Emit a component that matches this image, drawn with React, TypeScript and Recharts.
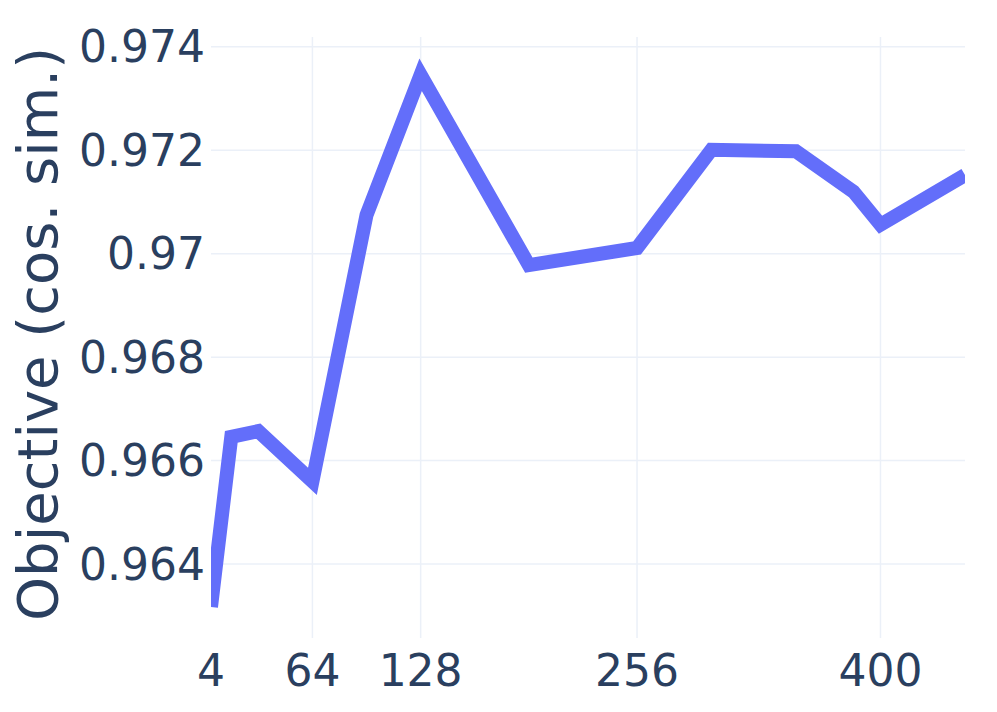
import { CartesianGrid, Line, LineChart, XAxis, YAxis } from "recharts";

// sweep values and their objective (cosine similarity)
const sizes = [4, 16, 32, 64, 96, 128, 192, 256, 300, 350, 384, 400, 450];
const objective = [
  0.96317, 0.96646, 0.96657, 0.9656, 0.97075, 0.97346, 0.96978, 0.97011,
  0.97201, 0.97198, 0.9712, 0.97056, 0.97152,
];
const xTicks = [4, 64, 128, 256, 400];
const yTicks = [0.964, 0.966, 0.968, 0.97, 0.972, 0.974];

const FONT = "DejaVu Sans";
const INK = "#2a3f5f";
const GRID = "#ebf0f8";

const data = sizes.map((s, i) => ({ size: s, value: objective[i] }));

export default function App() {
  return (
    <div style={{ position: "absolute", left: 0, top: 0, background: "#fff" }}>
      <LineChart
        width={997}
        height={712}
        data={data}
        margin={{ top: 37, right: 32, bottom: 0, left: 0 }}
      >
        {/* no gridline on the left edge, like the original */}
        <CartesianGrid
          stroke={GRID}
          strokeWidth={1.5}
          horizontalValues={yTicks}
          verticalValues={xTicks.slice(1)}
        />
        <XAxis
          dataKey="size"
          type="number"
          domain={[4, 450]}
          ticks={xTicks}
          allowDataOverflow
          axisLine={false}
          tickLine={false}
          tickSize={0}
          tickMargin={17}
          height={74}
          tick={{ fill: INK, fontSize: 44, fontFamily: FONT }}
        />
        <YAxis
          type="number"
          domain={[0.96257, 0.97419]}
          ticks={yTicks}
          allowDataOverflow
          axisLine={false}
          tickLine={false}
          tickSize={0}
          tickMargin={6}
          width={211}
          tickFormatter={(v: number) => String(Number(v.toFixed(3)))}
          tick={{ fill: INK, fontSize: 44, fontFamily: FONT }}
          label={{
            content: () => (
              <text
                x={37}
                y={334}
                transform="rotate(-90 37 334)"
                textAnchor="middle"
                dominantBaseline="central"
                fill={INK}
                fontSize={56}
                fontFamily={FONT}
              >
                Objective (cos. sim.)
              </text>
            ),
          }}
        />
        <Line
          type="linear"
          dataKey="value"
          stroke="#636efa"
          strokeWidth={14}
          dot={false}
          activeDot={false}
          isAnimationActive={false}
        />
      </LineChart>
    </div>
  );
}
